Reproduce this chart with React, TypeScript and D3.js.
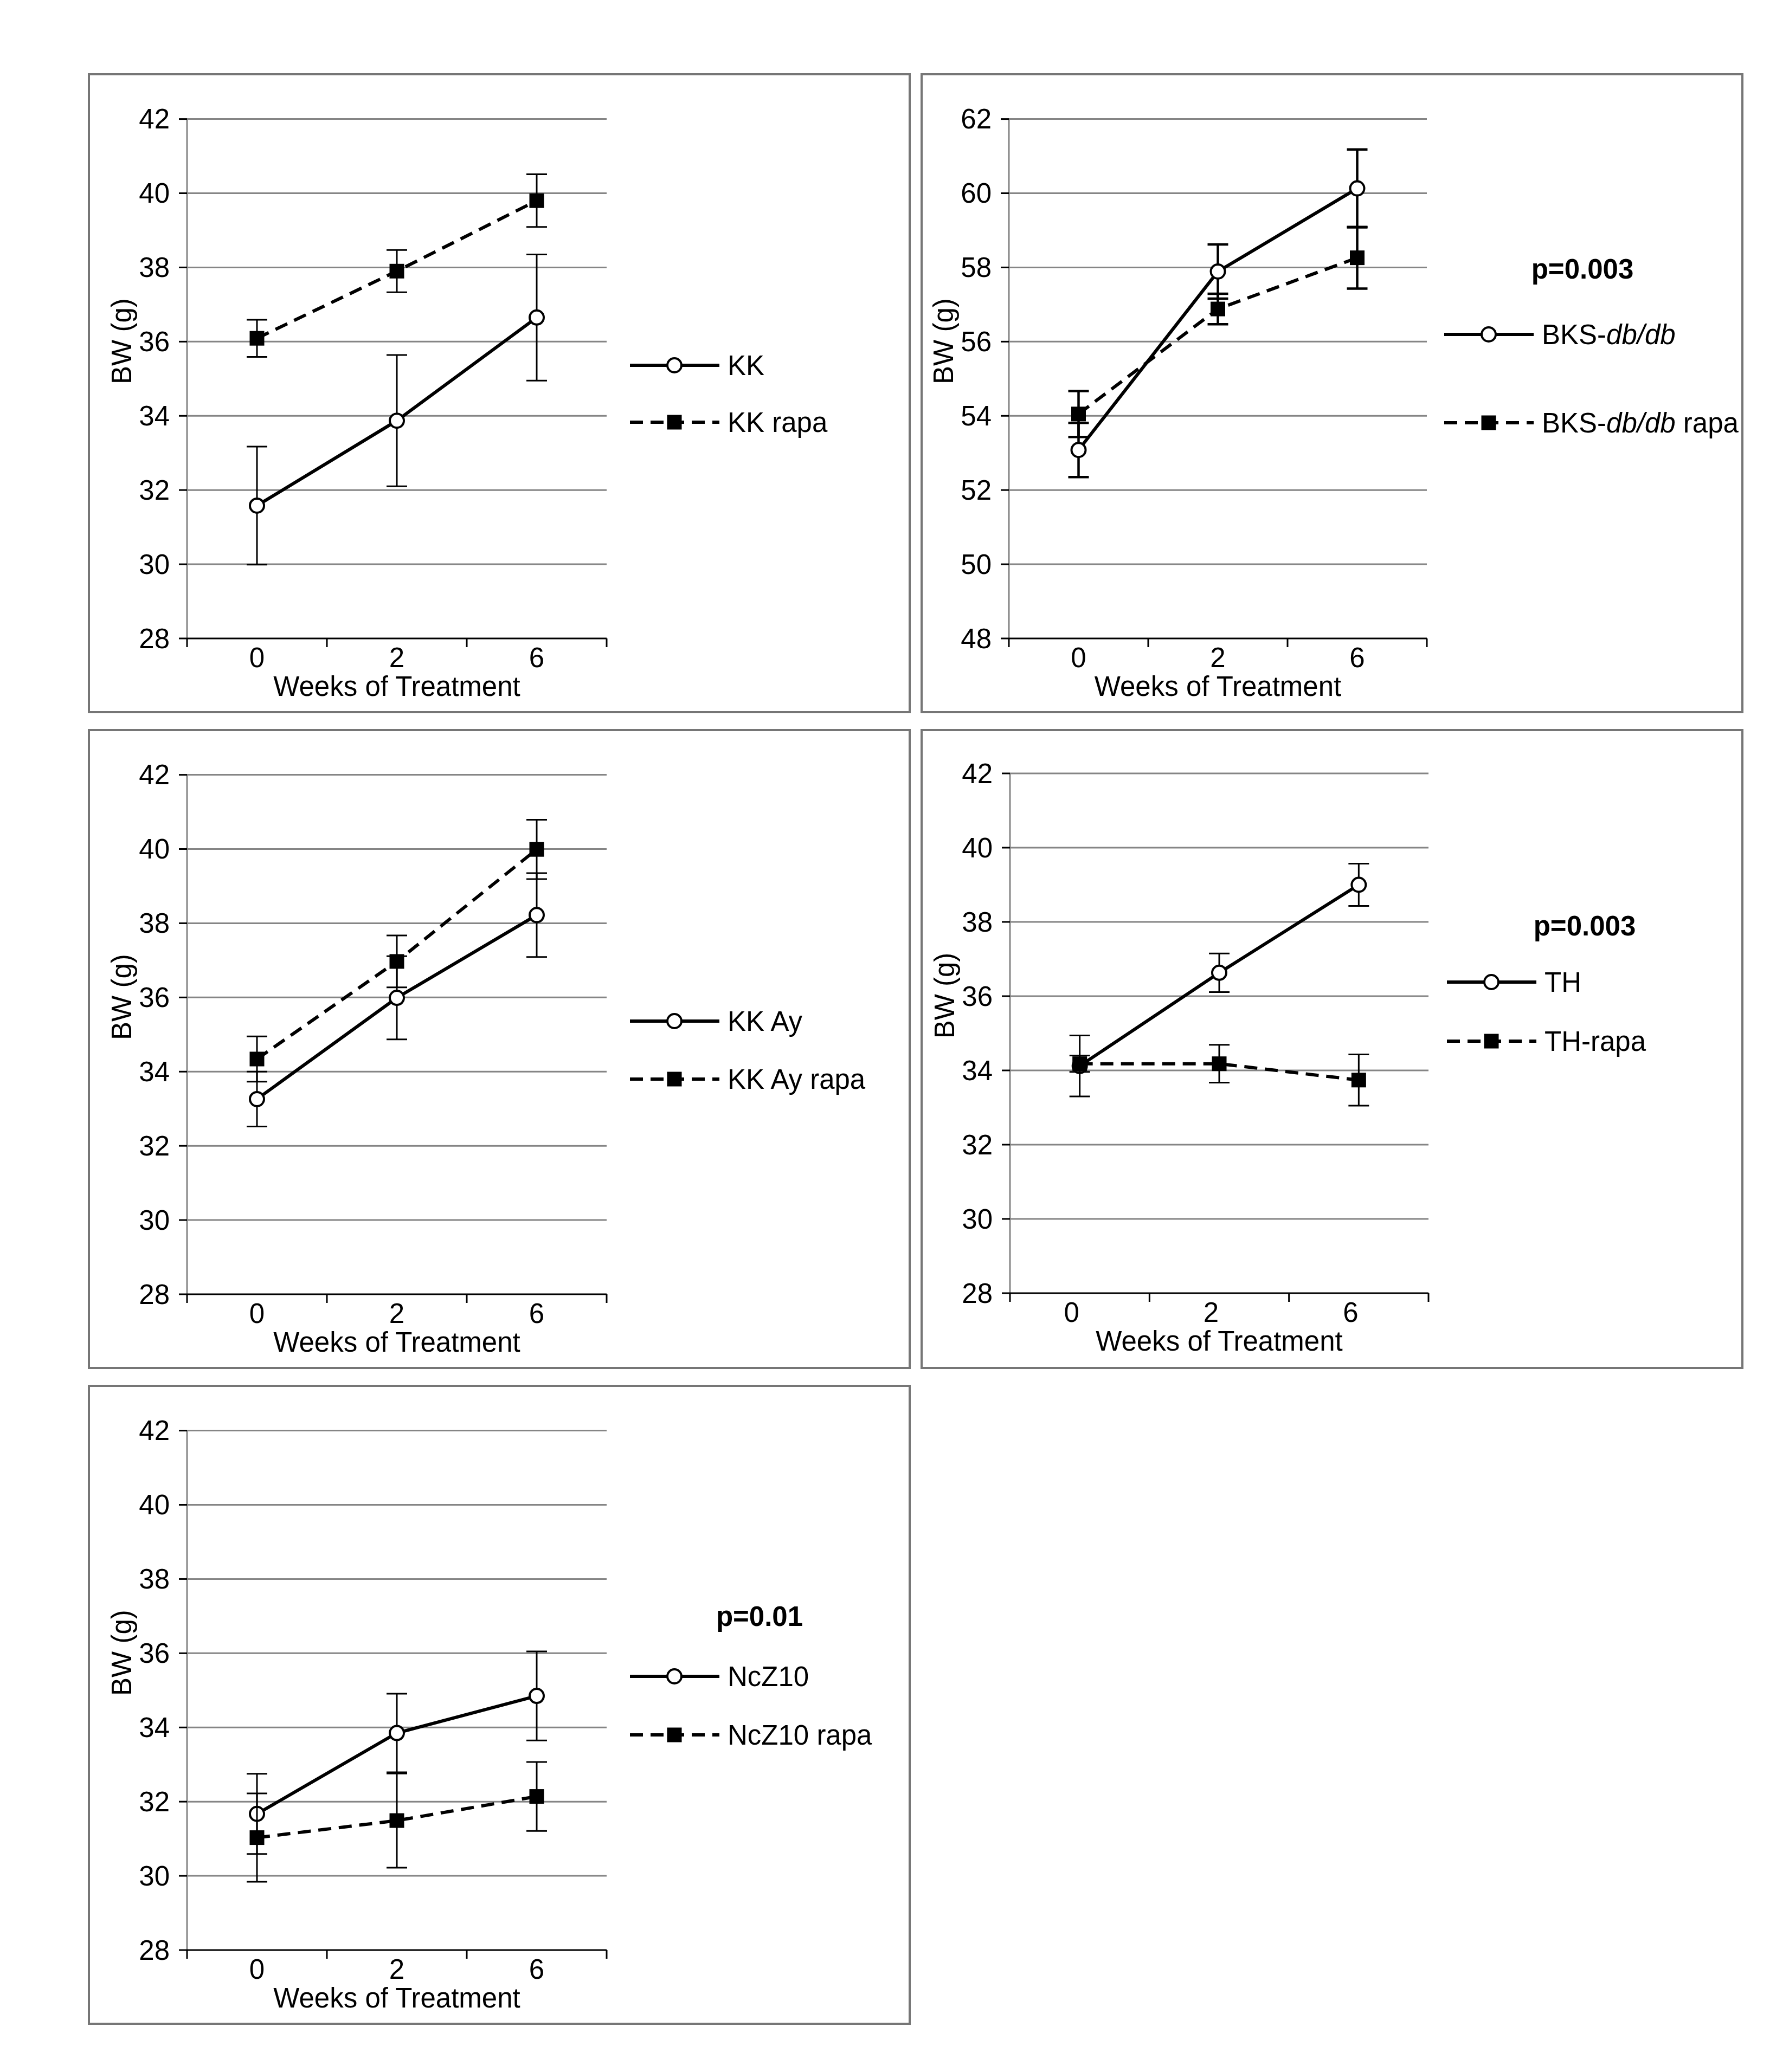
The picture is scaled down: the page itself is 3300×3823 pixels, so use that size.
import React from "react";
import * as d3 from "d3";

// weeks of treatment (x categories)
const weeks = ["0", "2", "6"];

// body weight means (g) and error bars
const kkMean = [31.58, 33.87, 36.65];
const kkErr = [1.59, 1.77, 1.7];
const kkRapaMean = [36.09, 37.9, 39.8];
const kkRapaErr = [0.5, 0.57, 0.71];

const bksMean = [53.08, 57.89, 60.13];
const bksErr = [0.73, 0.73, 1.05];
const bksRapaMean = [54.05, 56.88, 58.26];
const bksRapaErr = [0.62, 0.41, 0.83];

const kkAyMean = [33.26, 35.99, 38.22];
const kkAyErr = [0.74, 1.12, 1.13];
const kkAyRapaMean = [34.34, 36.97, 39.99];
const kkAyRapaErr = [0.61, 0.7, 0.8];

const thMean = [34.12, 36.63, 39.0];
const thErr = [0.82, 0.52, 0.57];
const thRapaMean = [34.18, 34.18, 33.74];
const thRapaErr = [0.22, 0.51, 0.69];

const nczMean = [31.67, 33.85, 34.85];
const nczErr = [1.08, 1.06, 1.2];
const nczRapaMean = [31.03, 31.49, 32.14];
const nczRapaErr = [1.19, 1.27, 0.93];

const lowDomain: [number, number] = [28, 42];
const bksDomain: [number, number] = [48, 62];

const FONT = "'Liberation Sans', Arial, Helvetica, sans-serif";
const GRID = "#858585";

interface Series {
  label: React.ReactNode;
  mean: number[];
  err: number[];
  dashed: boolean;
}

interface PanelCfg {
  box: [number, number, number, number];
  left: number;
  right: number;
  top: number;
  bottom: number;
  domain: [number, number];
  series: Series[];
  legendX: number;
  legendY: [number, number];
  pText?: string;
  pX?: number;
  pY?: number;
  errStroke: number;
  labelShift: number;
}

const bks = (suffix: string) => (
  <>
    BKS-<tspan fontStyle="italic">db/db</tspan>
    {suffix}
  </>
);

const panels: PanelCfg[] = [
  {
    box: [164, 137, 1514, 1177],
    left: 345, right: 1119, top: 219.6, bottom: 1178,
    domain: lowDomain,
    series: [
      { label: "KK", mean: kkMean, err: kkErr, dashed: false },
      { label: "KK rapa", mean: kkRapaMean, err: kkRapaErr, dashed: true },
    ],
    legendX: 1162, legendY: [674, 779],
    errStroke: 3, labelShift: 0,
  },
  {
    box: [1700, 137, 1514, 1177],
    left: 1861, right: 2632, top: 219.6, bottom: 1178,
    domain: bksDomain,
    series: [
      { label: bks(""), mean: bksMean, err: bksErr, dashed: false },
      { label: bks(" rapa"), mean: bksRapaMean, err: bksRapaErr, dashed: true },
    ],
    legendX: 2664, legendY: [617, 780],
    pText: "p=0.003", pX: 2919, pY: 496,
    errStroke: 4.5, labelShift: 0,
  },
  {
    box: [164, 1347, 1514, 1177],
    left: 345, right: 1119, top: 1429.6, bottom: 2388,
    domain: lowDomain,
    series: [
      { label: "KK Ay", mean: kkAyMean, err: kkAyErr, dashed: false },
      { label: "KK Ay rapa", mean: kkAyRapaMean, err: kkAyRapaErr, dashed: true },
    ],
    legendX: 1162, legendY: [1884, 1991],
    errStroke: 3, labelShift: 0,
  },
  {
    box: [1700, 1347, 1514, 1177],
    left: 1863, right: 2635, top: 1427, bottom: 2386,
    domain: lowDomain,
    series: [
      { label: "TH", mean: thMean, err: thErr, dashed: false },
      { label: "TH-rapa", mean: thRapaMean, err: thRapaErr, dashed: true },
    ],
    legendX: 2669, legendY: [1812, 1921],
    pText: "p=0.003", pX: 2923, pY: 1708,
    errStroke: 3, labelShift: -15,
  },
  {
    box: [164, 2557, 1514, 1177],
    left: 345, right: 1119, top: 2639.6, bottom: 3598,
    domain: lowDomain,
    series: [
      { label: "NcZ10", mean: nczMean, err: nczErr, dashed: false },
      { label: "NcZ10 rapa", mean: nczRapaMean, err: nczRapaErr, dashed: true },
    ],
    legendX: 1162, legendY: [3093, 3201],
    pText: "p=0.01", pX: 1401, pY: 2982,
    errStroke: 3, labelShift: 0,
  },
];

const Marker: React.FC<{ x: number; y: number; dashed: boolean }> = ({ x, y, dashed }) =>
  dashed ? (
    <rect x={x - 13.5} y={y - 13.5} width={27} height={27} fill="#000" />
  ) : (
    <circle cx={x} cy={y} r={13} fill="#fff" stroke="#000" strokeWidth={4} />
  );

const Panel: React.FC<{ cfg: PanelCfg }> = ({ cfg }) => {
  const [bx, by, bw, bh] = cfg.box;
  const x = d3.scaleBand<string>().domain(weeks).range([cfg.left, cfg.right]);
  const y = d3.scaleLinear().domain(cfg.domain).range([cfg.bottom, cfg.top]);
  const ticks = d3.range(cfg.domain[0], cfg.domain[1] + 0.01, 2);
  const cx = (w: string) => (x(w) as number) + x.bandwidth() / 2;
  const line = d3
    .line<number>()
    .x((_, i) => cx(weeks[i]))
    .y((d) => y(d));
  const bounds = [...weeks.map((w) => x(w) as number), cfg.right];
  const midX = (cfg.left + cfg.right) / 2;

  return (
    <g fontFamily={FONT}>
      <rect x={bx} y={by} width={bw} height={bh} fill="#fff" stroke="#767676" strokeWidth={4} />

      {/* gridlines */}
      {ticks.slice(1).map((t) => (
        <line key={"g" + t} x1={cfg.left} x2={cfg.right} y1={y(t)} y2={y(t)} stroke={GRID} strokeWidth={3} />
      ))}

      {/* y axis */}
      <line x1={cfg.left} x2={cfg.left} y1={cfg.top} y2={cfg.bottom} stroke={GRID} strokeWidth={3} />
      {ticks.map((t) => (
        <g key={"y" + t}>
          <line x1={cfg.left - 15} x2={cfg.left} y1={y(t)} y2={y(t)} stroke="#000" strokeWidth={3} />
          <text x={cfg.left - 32} y={y(t)} dy="0.35em" textAnchor="end" fontSize={51}>
            {t}
          </text>
        </g>
      ))}

      {/* x axis */}
      <line x1={cfg.left} x2={cfg.right} y1={cfg.bottom} y2={cfg.bottom} stroke="#000" strokeWidth={3} />
      {bounds.map((b, i) => (
        <line key={"xt" + i} x1={b} x2={b} y1={cfg.bottom} y2={cfg.bottom + 16} stroke="#000" strokeWidth={3} />
      ))}
      {weeks.map((w) => (
        <text key={"xl" + w} x={cx(w) + cfg.labelShift} y={cfg.bottom + 53} textAnchor="middle" fontSize={51}>
          {w}
        </text>
      ))}
      <text x={midX} y={cfg.bottom + 106} textAnchor="middle" fontSize={51}>
        Weeks of Treatment
      </text>
      <text
        transform={`translate(${cfg.left - 103},${cfg.top + 410}) rotate(-90)`}
        textAnchor="middle"
        fontSize={51}
      >
        BW (g)
      </text>

      {/* series */}
      {cfg.series.map((s, si) => (
        <g key={"s" + si}>
          {s.mean.map((m, i) => {
            const px = cx(weeks[i]);
            const hi = y(m + s.err[i]);
            const lo = y(m - s.err[i]);
            return (
              <g key={"e" + i} stroke="#000" strokeWidth={cfg.errStroke}>
                <line x1={px} x2={px} y1={hi} y2={lo} />
                <line x1={px - 19} x2={px + 19} y1={hi} y2={hi} />
                <line x1={px - 19} x2={px + 19} y1={lo} y2={lo} />
              </g>
            );
          })}
          <path
            d={line(s.mean) as string}
            fill="none"
            stroke="#000"
            strokeWidth={6}
            strokeDasharray={s.dashed ? "24 14" : undefined}
          />
          {s.mean.map((m, i) => (
            <Marker key={"m" + i} x={cx(weeks[i])} y={y(m)} dashed={s.dashed} />
          ))}
        </g>
      ))}

      {/* legend */}
      {cfg.pText && (
        <text x={cfg.pX} y={cfg.pY} dy="0.35em" textAnchor="middle" fontSize={51} fontWeight="bold">
          {cfg.pText}
        </text>
      )}
      {cfg.series.map((s, si) => {
        const ly = cfg.legendY[si];
        return (
          <g key={"l" + si}>
            <line
              x1={cfg.legendX}
              x2={cfg.legendX + 165}
              y1={ly}
              y2={ly}
              stroke="#000"
              strokeWidth={6}
              strokeDasharray={s.dashed ? "24 14" : undefined}
            />
            <Marker x={cfg.legendX + 82} y={ly} dashed={s.dashed} />
            <text x={cfg.legendX + 180} y={ly} dy="0.35em" fontSize={51}>
              {s.label}
            </text>
          </g>
        );
      })}
    </g>
  );
};

export default function App() {
  return (
    <svg
      width={3300}
      height={3823}
      viewBox="0 0 3300 3823"
      style={{ position: "absolute", left: 0, top: 0, background: "#fff" }}
    >
      <rect width={3300} height={3823} fill="#fff" />
      {panels.map((p, i) => (
        <Panel key={i} cfg={p} />
      ))}
    </svg>
  );
}
